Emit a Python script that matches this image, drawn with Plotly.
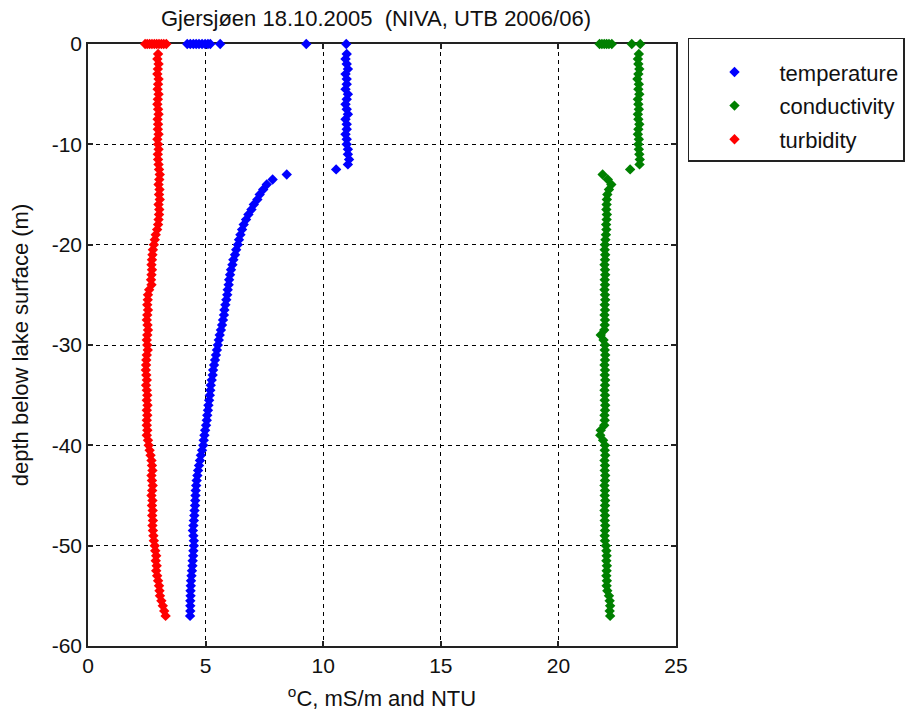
import plotly.graph_objects as go

# ---------------- data ----------------
title_text = "Gjersjøen 18.10.2005  (NIVA, UTB 2006/06)"
x_title = "<sup>o</sup>C, mS/m and NTU"
y_title = "depth below lake surface (m)"

x_tickvals = [0, 5, 10, 15, 20, 25]
x_ticktext = ["0", "5", "10", "15", "20", "25"]
y_tickvals = [-60, -50, -40, -30, -20, -10, 0]
y_ticktext = ["-60", "-50", "-40", "-30", "-20", "-10", "0"]

series_names = ["temperature", "conductivity", "turbidity"]

# depth of the profile samples below the surface (m)
depth = [
    -1.0, -1.5, -2.0, -2.5, -3.0, -3.5, -4.0, -4.5, -5.0, -5.5,
    -6.0, -6.5, -7.0, -7.5, -8.0, -8.5, -9.0, -9.5, -10.0, -10.5,
    -11.0, -11.5, -12.0, -12.5, -13.0, -13.5, -14.0, -14.5, -15.0, -15.5,
    -16.0, -16.5, -17.0, -17.5, -18.0, -18.5, -19.0, -19.5, -20.0, -20.5,
    -21.0, -21.5, -22.0, -22.5, -23.0, -23.5, -24.0, -24.5, -25.0, -25.5,
    -26.0, -26.5, -27.0, -27.5, -28.0, -28.5, -29.0, -29.5, -30.0, -30.5,
    -31.0, -31.5, -32.0, -32.5, -33.0, -33.5, -34.0, -34.5, -35.0, -35.5,
    -36.0, -36.5, -37.0, -37.5, -38.0, -38.5, -39.0, -39.5, -40.0, -40.5,
    -41.0, -41.5, -42.0, -42.5, -43.0, -43.5, -44.0, -44.5, -45.0, -45.5,
    -46.0, -46.5, -47.0, -47.5, -48.0, -48.5, -49.0, -49.5, -50.0, -50.5,
    -51.0, -51.5, -52.0, -52.5, -53.0, -53.5, -54.0, -54.5, -55.0, -55.5,
    -56.0, -56.5, -57.0,
]

# readings logged while the probe sat at the surface (depth 0)
temperature_surface = [4.22, 4.35, 4.48, 4.6, 4.72, 4.85, 4.98, 5.1, 5.2, 5.62, 9.28, 10.98]
conductivity_surface = [21.75, 21.85, 21.95, 22.05, 22.15, 22.27, 23.12, 23.48]
turbidity_surface = [2.43, 2.52, 2.62, 2.72, 2.82, 2.92, 3.02, 3.12, 3.22, 3.33]

temperature = [
    11.0, 10.95, 11.0, 11.05, 10.95, 11.0, 11.0, 10.95, 11.05, 11.0,
    10.95, 11.0, 11.05, 10.95, 11.0, 11.0, 10.95, 11.0, 11.0, 11.05,
    11.05, 11.1, 11.05, 10.55, 8.45, 7.85, 7.6, 7.45, 7.3, 7.2,
    7.05, 6.95, 6.82, 6.72, 6.62, 6.55, 6.48, 6.42, 6.37, 6.3,
    6.25, 6.18, 6.14, 6.08, 6.04, 6.0, 5.98, 5.94, 5.92, 5.88,
    5.84, 5.8, 5.78, 5.74, 5.7, 5.65, 5.6, 5.56, 5.52, 5.48,
    5.44, 5.4, 5.36, 5.32, 5.3, 5.26, 5.22, 5.2, 5.18, 5.15,
    5.12, 5.1, 5.07, 5.05, 5.02, 4.98, 4.95, 4.92, 4.9, 4.85,
    4.8, 4.76, 4.72, 4.68, 4.65, 4.62, 4.6, 4.58, 4.57, 4.56,
    4.55, 4.53, 4.52, 4.5, 4.48, 4.46, 4.48, 4.5, 4.5, 4.48,
    4.47, 4.45, 4.44, 4.42, 4.4, 4.38, 4.37, 4.36, 4.36, 4.35,
    4.35, 4.35, 4.34,
]

conductivity = [
    23.42, 23.38, 23.4, 23.44, 23.4, 23.36, 23.42, 23.4, 23.44, 23.38,
    23.4, 23.42, 23.38, 23.4, 23.44, 23.4, 23.38, 23.42, 23.4, 23.42,
    23.44, 23.46, 23.45, 23.05, 21.88, 22.1, 22.25, 22.15, 22.08, 22.06,
    22.05, 22.04, 22.06, 22.05, 22.03, 22.04, 22.02, 22.0, 21.98, 21.97,
    21.99, 21.98, 21.96, 21.98, 21.99, 21.97, 21.98, 21.96, 21.98, 21.99,
    21.97, 21.98, 21.96, 21.98, 21.97, 21.95, 21.8, 21.92, 21.98, 21.97,
    21.99, 21.98, 21.96, 21.98, 21.97, 21.99, 21.98, 21.96, 21.98, 21.97,
    21.99, 21.98, 21.96, 21.97, 21.95, 21.8, 21.78, 21.9, 21.98, 21.97,
    21.99, 21.96, 21.98, 21.97, 21.99, 21.98, 21.96, 21.98, 21.97, 21.99,
    21.98, 21.96, 21.98, 21.97, 21.99, 21.98, 21.97, 21.98, 22.02, 22.04,
    22.05, 22.04, 22.06, 22.05, 22.04, 22.06, 22.05, 22.08, 22.15, 22.18,
    22.2, 22.18, 22.2,
]

turbidity = [
    2.98, 2.95, 3.0, 2.97, 2.95, 3.0, 2.98, 2.96, 3.0, 2.97,
    2.95, 2.98, 3.0, 2.96, 2.98, 2.97, 3.0, 2.95, 2.98, 3.0,
    2.97, 2.98, 3.0, 3.02, 3.05, 3.03, 3.0, 3.04, 3.02, 3.05,
    3.0, 3.03, 3.02, 3.0, 2.98, 2.94, 2.88, 2.84, 2.8, 2.76,
    2.74, 2.72, 2.7, 2.72, 2.7, 2.68, 2.7, 2.6, 2.55, 2.54,
    2.52, 2.55, 2.52, 2.5, 2.53, 2.55, 2.52, 2.5, 2.52, 2.54,
    2.5, 2.48, 2.47, 2.46, 2.48, 2.5, 2.47, 2.5, 2.52, 2.5,
    2.53, 2.5, 2.52, 2.5, 2.5, 2.52, 2.5, 2.55, 2.58, 2.62,
    2.66, 2.7, 2.72, 2.74, 2.7, 2.72, 2.75, 2.73, 2.7, 2.74,
    2.72, 2.75, 2.73, 2.76, 2.74, 2.76, 2.78, 2.8, 2.84, 2.86,
    2.9, 2.88, 2.92, 2.9, 2.94, 2.98, 3.02, 3.04, 3.06, 3.12,
    3.18, 3.24, 3.3,
]

series_colors = ["#0000ff", "#008000", "#ff0000"]

# ---------------- figure ----------------
FONT = "Liberation Sans, Arial, Helvetica, sans-serif"
FS = 21
FT = 22

fig = go.Figure()
series = [
    (series_names[0], series_colors[0], temperature_surface, temperature),
    (series_names[1], series_colors[1], conductivity_surface, conductivity),
    (series_names[2], series_colors[2], turbidity_surface, turbidity),
]
for name, color, surf, prof in series:
    fig.add_trace(go.Scatter(
        x=surf + prof,
        y=[0] * len(surf) + depth,
        mode="markers",
        name=name,
        legendgroup=name,
        cliponaxis=False,
        marker=dict(symbol="diamond", size=8, color=color, line=dict(width=0)),
    ))

axis_common = dict(
    showgrid=True, gridcolor="#000000", gridwidth=1, griddash="4px,4px",
    showline=True, linecolor="#222222", linewidth=1.5, mirror="ticks",
    ticks="inside", ticklen=5, tickcolor="#222222", tickwidth=1.5,
    zeroline=False, layer="below traces",
    tickfont=dict(family=FONT, size=FS, color="#111111"),
)

fig.update_layout(
    width=911, height=716,
    margin=dict(l=88, r=235, t=44, b=70, pad=0, autoexpand=False),
    paper_bgcolor="white", plot_bgcolor="white",
    font=dict(family=FONT, size=FS, color="#111111"),
    title=dict(text=title_text, x=0.4127, xanchor="center", xref="container",
               y=1 - 18 / 716, yanchor="middle",
               font=dict(family=FONT, size=FT, color="#111111")),
    xaxis=dict(range=[0, 25], tickmode="array", tickvals=x_tickvals, ticktext=x_ticktext,
               title=dict(text=x_title, font=dict(family=FONT, size=FT), standoff=15),
               **axis_common),
    yaxis=dict(range=[-60, 0], tickmode="array", tickvals=y_tickvals, ticktext=y_ticktext,
               title=dict(text=y_title, font=dict(family=FONT, size=FT), standoff=17),
               **axis_common),
    showlegend=True,
    legend=dict(x=1.0204, y=1.01, xanchor="left", yanchor="top",
                bordercolor="#222222", borderwidth=1.5, bgcolor="white",
                font=dict(family=FONT, size=FT, color="#111111"),
                title=dict(text=" ", font=dict(size=9)),
                itemwidth=80, tracegroupgap=2, traceorder="grouped"),
)

fig.write_html("out.html")
